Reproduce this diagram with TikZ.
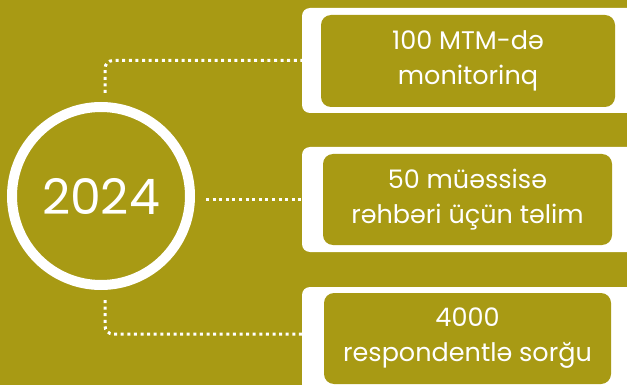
\documentclass[tikz,border=0pt]{standalone}
\usepackage{fontspec}
\setmainfont{Poppins}
\definecolor{olivebg}{HTML}{A89A14}
\begin{document}
\begin{tikzpicture}[x=1pt,y=-1pt,
  whitebox/.style={fill=white, rounded corners=8pt, inner sep=0pt},
  innerbox/.style={fill=olivebg, rounded corners=10pt, inner sep=0pt, text=white, align=center, font=\fontsize{25.5}{35}\selectfont},
  dotline/.style={white, line width=3pt, dash pattern=on 3pt off 3.6pt},
  yearring/.style={circle, draw=white, line width=10pt, minimum size=178pt, inner sep=0pt, text=white, font=\fontsize{49}{50}\selectfont}]
\useasboundingbox (0,0) rectangle (627,385);
\fill[olivebg] (0,0) rectangle (627,385);
\clip (0,0) rectangle (627,385);
% white outer boxes
\node[whitebox, minimum width=340pt, minimum height=105pt] (wb1) at (472,60.5) {};
\node[whitebox, minimum width=340pt, minimum height=105pt] (wb2) at (472,199.5) {};
\node[whitebox, minimum width=340pt, minimum height=120pt] (wb3) at (472,347) {};
% inner boxes
\node[innerbox, minimum width=294pt, minimum height=92pt] (b1) at (468,61) {100 MTM-də\\monitorinq};
\node[innerbox, minimum width=289pt, minimum height=91pt] (b2) at (467.5,199.5) {50 müəssisə\\rəhbəri üçün təlim};
\node[innerbox, minimum width=287pt, minimum height=91pt] (b3) at (467.5,338.5) {4000\\respondentlə sorğu};
% circle
\node[yearring] (c) at (101,196) {2024};
% connectors
\coordinate (s1) at (105,93);
\coordinate (s3) at (105,300);
\coordinate (e3) at (302,334);
\draw[dotline, rounded corners=8pt] (s1) |- (wb1.west);
\draw[dotline] ([xshift=11pt]c.east |- wb2.west) -- (wb2.west);
\draw[dotline, rounded corners=8pt] (s3) |- (e3);
\end{tikzpicture}
\end{document}
